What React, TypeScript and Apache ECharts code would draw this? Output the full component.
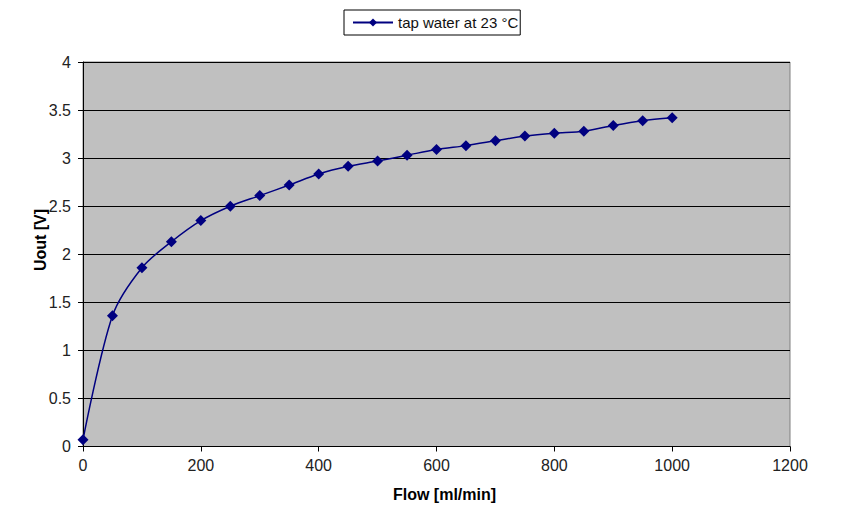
import React, { useEffect, useRef } from "react";
import * as echarts from "echarts";

const flow = [0, 50, 100, 150, 200, 250, 300, 350, 400, 450, 500, 550, 600, 650, 700, 750, 800, 850, 900, 950, 1000];
const uout = [0.07, 1.36, 1.86, 2.13, 2.35, 2.5, 2.61, 2.72, 2.835, 2.915, 2.97, 3.03, 3.09, 3.13, 3.18, 3.23, 3.26, 3.28, 3.34, 3.39, 3.42];
const seriesName = "tap water at 23 °C";
const xTitle = "Flow [ml/min]";
const yTitle = "Uout [V]";

export default function App() {
  const ref = useRef<HTMLDivElement>(null);
  useEffect(() => {
    if (!ref.current) return;
    const chart = echarts.init(ref.current, null, { renderer: "svg" });
    const font = "'Liberation Sans', Arial, sans-serif";
    chart.setOption({
      animation: false,
      backgroundColor: "#ffffff",
      textStyle: { fontFamily: font },
      legend: {
        top: 10,
        left: 344,
        data: [seriesName],
        borderColor: "#000",
        borderWidth: 1,
        padding: [5, 2, 5, 8],
        itemWidth: 40,
        itemHeight: 10,
        textStyle: { fontFamily: font, fontSize: 15, color: "#111" },
      },
      grid: {
        left: 83,
        right: 52,
        top: 62,
        bottom: 72.5,
        show: true,
        backgroundColor: "#c0c0c0",
        borderColor: "#808080",
        borderWidth: 1,
      },
      graphic: [
        {
          type: "text",
          x: 40,
          y: 240,
          rotation: Math.PI / 2,
          style: {
            text: yTitle,
            fontFamily: font,
            fontSize: 16,
            fontWeight: "bold",
            fill: "#000",
            align: "center",
            verticalAlign: "middle",
          },
        },
      ],
      xAxis: {
        type: "value",
        min: 0,
        max: 1200,
        interval: 200,
        name: xTitle,
        nameLocation: "middle",
        nameGap: 40,
        nameTextStyle: { fontFamily: font, fontSize: 16, fontWeight: "bold", color: "#000", padding: [0, 0, 0, 16] },
        axisLine: { show: true, onZero: false, lineStyle: { color: "#000", width: 1 } },
        axisTick: { show: true, inside: false, length: 5, lineStyle: { color: "#000" } },
        axisLabel: { fontFamily: font, fontSize: 16, color: "#222", margin: 11, formatter: (v: number) => String(v) },
        splitLine: { show: false },
      },
      yAxis: {
        type: "value",
        min: 0,
        max: 4,
        interval: 0.5,
        axisLine: { show: true, lineStyle: { color: "#000", width: 1 } },
        axisTick: { show: true, inside: false, length: 5, lineStyle: { color: "#000" } },
        axisLabel: { fontFamily: font, fontSize: 16, color: "#222", margin: 12, formatter: (v: number) => String(v) },
        splitLine: { show: true, lineStyle: { color: "#000", width: 1 } },
      },
      series: [
        {
          name: seriesName,
          type: "line",
          data: flow.map((f, i) => [f, uout[i]]),
          smooth: 0.3,
          symbol: "diamond",
          symbolSize: 11,
          itemStyle: { color: "#000080" },
          lineStyle: { color: "#000080", width: 1.5 },
        },
      ],
    });
    return () => chart.dispose();
  }, []);
  return (
    <div
      ref={ref}
      style={{ position: "absolute", left: 0, top: 0, width: 842, height: 519 }}
    />
  );
}
